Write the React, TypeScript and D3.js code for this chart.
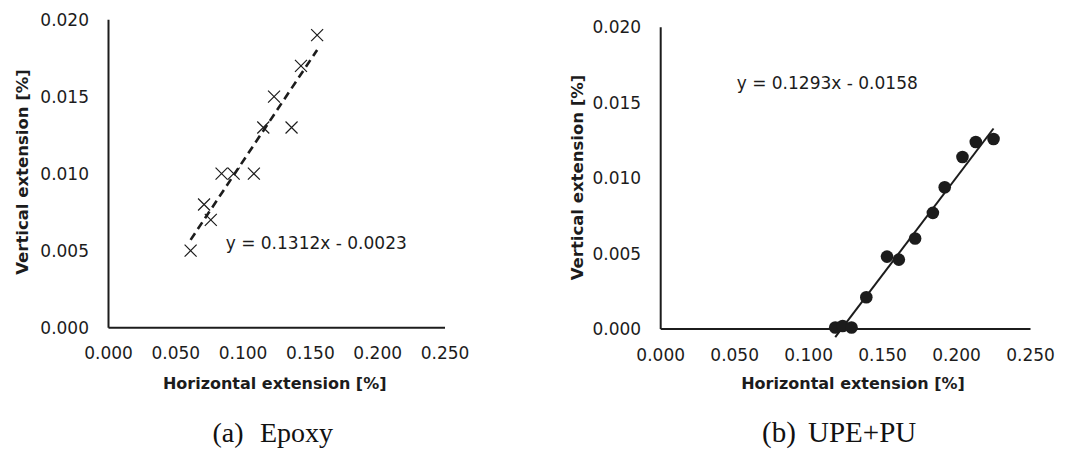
import React from "react";
import * as d3 from "d3";

// ---- Data ----
const epoxyX = [0.061, 0.071, 0.076, 0.084, 0.093, 0.108, 0.115, 0.123, 0.136, 0.143, 0.155];
const epoxyY = [0.005, 0.008, 0.007, 0.010, 0.010, 0.010, 0.013, 0.015, 0.013, 0.017, 0.019];
const epoxyFit = { slope: 0.1312, intercept: -0.0023, label: "y = 0.1312x - 0.0023" };

const upeX = [0.118, 0.123, 0.129, 0.139, 0.153, 0.161, 0.172, 0.184, 0.192, 0.204, 0.213, 0.225];
const upeY = [0.0001, 0.0002, 0.0001, 0.0021, 0.0048, 0.0046, 0.006, 0.0077, 0.0094, 0.0114, 0.0124, 0.0126];
const upeFit = { slope: 0.1293, intercept: -0.0158, label: "y = 0.1293x - 0.0158" };

const xTicks = [0, 0.05, 0.1, 0.15, 0.2, 0.25];
const yTicks = [0, 0.005, 0.01, 0.015, 0.02];
const xTitle = "Horizontal extension [%]";
const yTitle = "Vertical extension [%]";

const INK = "#1c1c1c";
const SANS = "'DejaVu Sans', sans-serif";
const SERIF = "'Liberation Serif', 'Times New Roman', serif";

type PanelProps = {
  xs: number[];
  ys: number[];
  fit: { slope: number; intercept: number; label: string };
  xRange: [number, number];
  yRange: [number, number];
  marker: "cross" | "circle";
  dashed: boolean;
  eqPos: [number, number];
  xTitlePos: [number, number];
  yTitlePos: [number, number];
  capA: string;
  capB: string;
  capAx: number;
  capBx: number;
  capY: number;
  capSize: number;
};

function Panel(p: PanelProps) {
  const x = d3.scaleLinear().domain([0, 0.25]).range(p.xRange);
  const y = d3.scaleLinear().domain([0, 0.02]).range(p.yRange);
  const x0 = d3.min(p.xs)!;
  const x1 = d3.max(p.xs)!;
  const fitPts: [number, number][] = [
    [x0, p.fit.slope * x0 + p.fit.intercept],
    [x1, p.fit.slope * x1 + p.fit.intercept],
  ];
  const line = d3
    .line<[number, number]>()
    .x((d) => x(d[0]))
    .y((d) => y(d[1]));
  const ax0 = x(0);
  const ay0 = y(0);
  return (
    <g>
      {/* axes */}
      <line x1={ax0} x2={ax0} y1={y(0.02)} y2={ay0} stroke={INK} strokeWidth={2} />
      <line x1={ax0} x2={x(0.25)} y1={ay0} y2={ay0} stroke={INK} strokeWidth={2} />
      {yTicks.map((t) => (
        <text
          key={"y" + t}
          x={ax0 - 19.5}
          y={y(t)}
          textAnchor="end"
          dominantBaseline="central"
          fontFamily={SANS}
          fontSize={17}
          fill={INK}
        >
          {d3.format(".3f")(t)}
        </text>
      ))}
      {xTicks.map((t) => (
        <text
          key={"x" + t}
          x={x(t)}
          y={ay0 + 25.5}
          textAnchor="middle"
          dominantBaseline="central"
          fontFamily={SANS}
          fontSize={17}
          fill={INK}
        >
          {d3.format(".3f")(t)}
        </text>
      ))}
      <text
        x={p.xTitlePos[0]}
        y={p.xTitlePos[1]}
        textAnchor="middle"
        dominantBaseline="central"
        fontFamily={SANS}
        fontWeight="bold"
        fontSize={16}
        fill={INK}
      >
        {xTitle}
      </text>
      <text
        transform={`translate(${p.yTitlePos[0]},${p.yTitlePos[1]}) rotate(-90)`}
        textAnchor="middle"
        dominantBaseline="central"
        fontFamily={SANS}
        fontWeight="bold"
        fontSize={16.5}
        fill={INK}
      >
        {yTitle}
      </text>
      {/* trendline */}
      <path
        d={line(fitPts) || ""}
        fill="none"
        stroke={INK}
        strokeWidth={p.dashed ? 2.6 : 2}
        strokeDasharray={p.dashed ? "8 5" : undefined}
      />
      {/* points */}
      {p.xs.map((xv, i) => {
        const cx = x(xv);
        const cy = y(p.ys[i]);
        if (p.marker === "circle") {
          return <circle key={i} cx={cx} cy={cy} r={6.3} fill={INK} />;
        }
        const s = 6;
        return (
          <path
            key={i}
            d={`M${cx - s},${cy - s}L${cx + s},${cy + s}M${cx - s},${cy + s}L${cx + s},${cy - s}`}
            stroke={INK}
            strokeWidth={1.2}
            fill="none"
          />
        );
      })}
      <text
        x={p.eqPos[0]}
        y={p.eqPos[1]}
        dominantBaseline="central"
        fontFamily={SANS}
        fontSize={17}
        fill={INK}
      >
        {p.fit.label}
      </text>
      {/* caption */}
      <text x={p.capAx} y={p.capY} fontFamily={SERIF} fontSize={p.capSize} fill="#111">
        {p.capA}
      </text>
      <text x={p.capBx} y={p.capY} fontFamily={SERIF} fontSize={p.capSize} fill="#111">
        {p.capB}
      </text>
    </g>
  );
}

export default function App() {
  return (
    <svg
      width={1075}
      height={453}
      style={{ position: "absolute", left: 0, top: 0, background: "#fff" }}
    >
      <rect width={1075} height={453} fill="#fff" />
      <Panel
        xs={epoxyX}
        ys={epoxyY}
        fit={epoxyFit}
        xRange={[108.5, 445]}
        yRange={[327.7, 19.7]}
        marker="cross"
        dashed={true}
        eqPos={[225.7, 242.5]}
        xTitlePos={[274.7, 383.3]}
        yTitlePos={[22.8, 172]}
        capA="(a)"
        capB="Epoxy"
        capAx={212.5}
        capBx={260}
        capY={442}
        capSize={28}
      />
      <Panel
        xs={upeX}
        ys={upeY}
        fit={upeFit}
        xRange={[660.7, 1030.5]}
        yRange={[329, 27.3]}
        marker="circle"
        dashed={false}
        eqPos={[736.7, 83]}
        xTitlePos={[853, 383.3]}
        yTitlePos={[577, 177.5]}
        capA="(b)"
        capB="UPE+PU"
        capAx={762}
        capBx={808}
        capY={442}
        capSize={29}
      />
    </svg>
  );
}
